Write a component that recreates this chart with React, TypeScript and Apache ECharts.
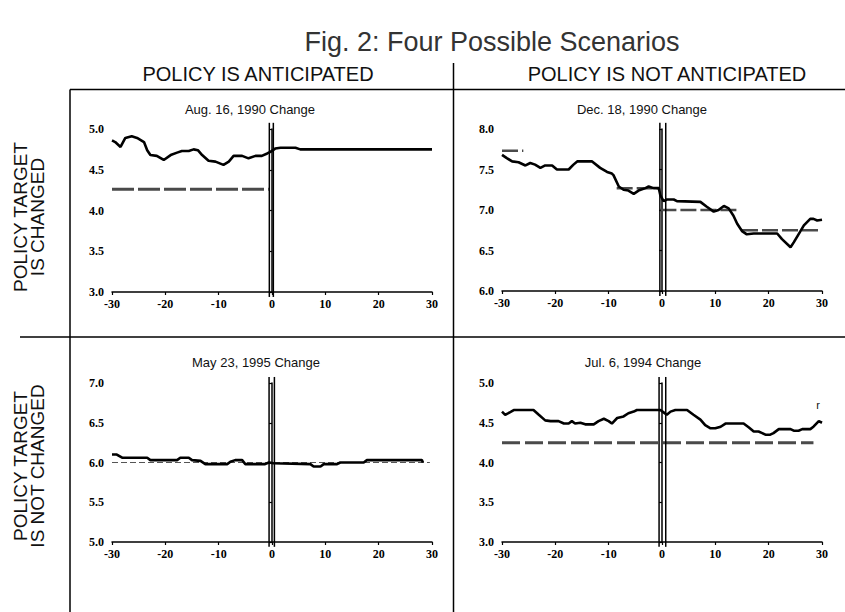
import React, { useEffect, useRef } from "react";
import * as echarts from "echarts";

// ---------- data ----------
const xTicks = [-30, -20, -10, 0, 10, 20, 30];

const panelTitles = [
  "Aug. 16, 1990 Change",
  "Dec. 18, 1990 Change",
  "May 23, 1995 Change",
  "Jul. 6, 1994 Change",
];

const yRanges = [
  [3.0, 5.0],
  [6.0, 8.0],
  [5.0, 7.0],
  [3.0, 5.0],
];

// rate series [day, percent]
const aug1990Rate = [
  [-30, 4.86], [-29.4, 4.84], [-28.4, 4.78], [-27.5, 4.89], [-26.3, 4.91], [-25.3, 4.89],
  [-24, 4.84], [-23.4, 4.74], [-22.8, 4.68], [-21.6, 4.67], [-20.3, 4.62], [-19, 4.68],
  [-17.8, 4.71], [-16.9, 4.73], [-15.6, 4.73], [-14.7, 4.75], [-13.9, 4.74], [-13.1, 4.68],
  [-11.9, 4.61], [-10.6, 4.6], [-9.1, 4.56], [-8.1, 4.6], [-7.2, 4.67], [-5.6, 4.67],
  [-4.4, 4.64], [-3.1, 4.67], [-1.9, 4.67], [-0.9, 4.7], [-0.3, 4.72], [0.6, 4.76],
  [1.6, 4.77], [4.4, 4.77], [5.3, 4.75], [30, 4.75],
];

const dec1990Rate = [
  [-30, 7.68], [-29.1, 7.64], [-28.1, 7.6], [-26.9, 7.59], [-25.6, 7.55], [-24.7, 7.58],
  [-23.8, 7.56], [-22.8, 7.52], [-21.9, 7.55], [-20.6, 7.55], [-19.7, 7.5], [-17.5, 7.5],
  [-16.6, 7.56], [-15.9, 7.6], [-13.1, 7.6], [-11.6, 7.52], [-10.3, 7.47], [-9.4, 7.45],
  [-9.1, 7.43], [-8.1, 7.29], [-7.2, 7.25], [-6.3, 7.24], [-5.3, 7.2], [-4.4, 7.24],
  [-3.1, 7.27], [-2.5, 7.29], [-1.6, 7.27], [-0.6, 7.27], [-0.3, 7.18], [0.3, 7.11],
  [0.9, 7.13], [2.2, 7.13], [2.8, 7.11], [7.2, 7.1], [8.4, 7.04], [9.7, 6.98],
  [10.6, 7.0], [11.6, 7.05], [12.5, 7.02], [13.4, 6.93], [14.1, 6.83], [15, 6.74],
  [15.9, 6.7], [17.2, 6.71], [21.6, 6.71], [22.5, 6.64], [24.1, 6.54], [24.7, 6.6],
  [25.6, 6.7], [26.6, 6.81], [27.8, 6.89], [28.4, 6.89], [29.1, 6.87], [30, 6.88],
];

const may1995Rate = [
  [-30, 6.1], [-29.1, 6.1], [-28.1, 6.06], [-23.4, 6.06], [-22.8, 6.03], [-17.8, 6.03],
  [-17.2, 6.06], [-15.6, 6.06], [-15, 6.03], [-13.4, 6.02], [-12.5, 5.98], [-8.4, 5.98],
  [-7.8, 6.01], [-6.9, 6.03], [-5.6, 6.03], [-5, 5.98], [-1.3, 5.98], [-0.6, 6.0],
  [0.3, 5.99], [7.2, 5.98], [7.8, 5.95], [9.1, 5.95], [9.7, 5.98], [12.2, 5.98],
  [12.8, 6.0], [17.2, 6.0], [17.8, 6.03], [28.1, 6.03], [28.3, 6.0],
];

const jul1994Rate = [
  [-30, 4.64], [-29.4, 4.6], [-28.8, 4.62], [-27.8, 4.66], [-24.1, 4.66], [-23.1, 4.6],
  [-21.9, 4.53], [-20.9, 4.52], [-19.4, 4.52], [-18.4, 4.49], [-17.5, 4.49], [-16.9, 4.52],
  [-16.3, 4.49], [-15.3, 4.5], [-14.4, 4.48], [-12.8, 4.48], [-11.9, 4.52], [-10.9, 4.55],
  [-10, 4.52], [-9.4, 4.49], [-8.4, 4.56], [-7.2, 4.58], [-6.3, 4.62], [-5.3, 4.64],
  [-4.7, 4.66], [-0.3, 4.66], [0.3, 4.63], [0.9, 4.6], [1.6, 4.64], [2.5, 4.66],
  [4.7, 4.66], [5.9, 4.6], [7.2, 4.54], [8.1, 4.47], [9.1, 4.43], [10, 4.43],
  [11, 4.45], [11.9, 4.49], [15.3, 4.49], [16.3, 4.44], [17.2, 4.39], [18.1, 4.39],
  [18.8, 4.37], [19.4, 4.35], [20.3, 4.35], [20.9, 4.37], [21.9, 4.42], [24.1, 4.42],
  [24.7, 4.4], [25.6, 4.4], [26.3, 4.42], [27.8, 4.42], [28.4, 4.45], [29.4, 4.52],
  [30, 4.5],
];

// target segments [fromDay, toDay, level]
const aug1990Target = [[-30, -0.6, 4.26]];
const dec1990Target = [
  [-30, -26, 7.73],
  [-8.5, -0.5, 7.27],
  [-0.3, 14.7, 7.0],
  [15, 29.7, 6.75],
];
const may1995Target = [[-30, 29.6, 6.0]];
const jul1994Target = [[-30, 28.4, 4.25]];

// event-day double marker lines [day1, day2]
const eventMarkers = [
  [-0.5, 0.25],
  [-0.4, 0.7],
  [-0.55, 0.45],
  [-0.55, 0.7],
];

const rates = [aug1990Rate, dec1990Rate, may1995Rate, jul1994Rate];
const targets = [aug1990Target, dec1990Target, may1995Target, jul1994Target];

// ---------- layout ----------
const grids = [
  { left: 112, top: 129, width: 320, height: 163 },
  { left: 502, top: 129, width: 320, height: 162 },
  { left: 112, top: 383, width: 320, height: 159 },
  { left: 502, top: 383, width: 320, height: 159 },
];
const titlePos = [
  [250, 109],
  [642, 109],
  [256, 362],
  [643, 362],
];
const targetStyles = [
  { width: 3, type: [22, 4], color: "#4a4a4a" },
  { width: 2.5, type: [16, 4], color: "#4a4a4a" },
  { width: 1, type: [6, 3], color: "#555" },
  { width: 3, type: [18, 5], color: "#4a4a4a" },
];

const SANS = "'Liberation Sans', Arial, sans-serif";
const TICKFONT = "'Liberation Serif', 'Times New Roman', serif";

function buildOption() {
  const xAxis: any[] = [];
  const yAxis: any[] = [];
  const series: any[] = [];
  grids.forEach((g, i) => {
    const [ymin, ymax] = yRanges[i];
    xAxis.push({
      type: "value",
      gridIndex: i,
      min: xTicks[0],
      max: xTicks[xTicks.length - 1],
      interval: 10,
      axisLine: { onZero: false, lineStyle: { color: "#000", width: 1.5 } },
      axisTick: { show: true, length: 3, lineStyle: { color: "#000", width: 1.2 } },
      axisLabel: {
        margin: 6,
        fontSize: 12,
        fontWeight: "bold",
        fontFamily: TICKFONT,
        color: "#000",
      },
      splitLine: { show: false },
    });
    yAxis.push({
      type: "value",
      gridIndex: i,
      min: ymin,
      max: ymax,
      interval: 0.5,
      axisLine: { show: true, lineStyle: { color: "#000", width: 1.5 } },
      axisTick: { show: true, length: 3, lineStyle: { color: "#000", width: 1.2 } },
      axisLabel: {
        margin: 8,
        fontSize: 12,
        fontWeight: "bold",
        fontFamily: TICKFONT,
        color: "#000",
        formatter: (v: number) => v.toFixed(1),
      },
      splitLine: { show: false },
    });

    // target (dashed) segments
    targets[i].forEach((seg) => {
      series.push({
        type: "line",
        xAxisIndex: i,
        yAxisIndex: i,
        data: [
          [seg[0], seg[2]],
          [seg[1], seg[2]],
        ],
        showSymbol: false,
        symbol: "none",
        lineStyle: targetStyles[i],
        z: 2,
      });
    });

    // rate (solid)
    series.push({
      type: "line",
      xAxisIndex: i,
      yAxisIndex: i,
      data: rates[i],
      showSymbol: false,
      symbol: "none",
      lineStyle: { color: "#000", width: 2.6 },
      z: 3,
    });

    // event-day double lines
    const pad = (ymax - ymin) * 0.038;
    eventMarkers[i].forEach((d) => {
      series.push({
        type: "line",
        xAxisIndex: i,
        yAxisIndex: i,
        data: [
          [d, ymin - pad * 0.8],
          [d, ymax + pad],
        ],
        clip: false,
        showSymbol: false,
        symbol: "none",
        lineStyle: { color: "#000", width: 1.5 },
        z: 4,
      });
    });
  });

  const graphic: any[] = [];
  const text = (t: string, x: number, y: number, size: number, extra: any = {}) => ({
    type: "text",
    x,
    y,
    ...extra,
    style: {
      text: t,
      fontSize: size,
      fontFamily: SANS,
      fill: "#111",
      align: "center",
      verticalAlign: "middle",
      textAlign: "center",
      textVerticalAlign: "middle",
      ...(extra.style || {}),
    },
  });
  graphic.push(text("Fig. 2: Four Possible Scenarios", 492, 42, 27, { style: { fill: "#333" } }));
  graphic.push(text("POLICY IS ANTICIPATED", 258, 74, 20));
  graphic.push(text("POLICY IS NOT ANTICIPATED", 667, 74, 20));
  graphic.push(
    text("POLICY TARGET\nIS CHANGED", 29, 217, 19, { rotation: Math.PI / 2, style: { lineHeight: 17 } })
  );
  graphic.push(
    text("POLICY TARGET\nIS NOT CHANGED", 29, 466, 19, { rotation: Math.PI / 2, style: { lineHeight: 17 } })
  );
  panelTitles.forEach((t, i) => graphic.push(text(t, titlePos[i][0], titlePos[i][1], 13)));
  graphic.push(text("r", 818, 405, 11));

  const line = (x1: number, y1: number, x2: number, y2: number) => ({
    type: "line",
    shape: { x1, y1, x2, y2 },
    style: { stroke: "#000", lineWidth: 1.5 },
  });
  graphic.push(line(70, 89.5, 845, 89.5));
  graphic.push(line(70, 89.5, 70, 612));
  graphic.push(line(453.5, 63, 453.5, 612));
  graphic.push(line(20, 337, 845, 337));

  return {
    animation: false,
    backgroundColor: "#fff",
    grid: grids.map((g) => ({ ...g, containLabel: false })),
    xAxis,
    yAxis,
    series,
    graphic,
  };
}

export default function App() {
  const ref = useRef<HTMLDivElement>(null);
  useEffect(() => {
    if (!ref.current) return;
    const chart = echarts.init(ref.current, undefined, { renderer: "svg" });
    chart.setOption(buildOption() as any);
    return () => chart.dispose();
  }, []);
  return (
    <div
      ref={ref}
      style={{ position: "fixed", left: 0, top: 0, width: 845, height: 612, background: "#fff" }}
    />
  );
}
